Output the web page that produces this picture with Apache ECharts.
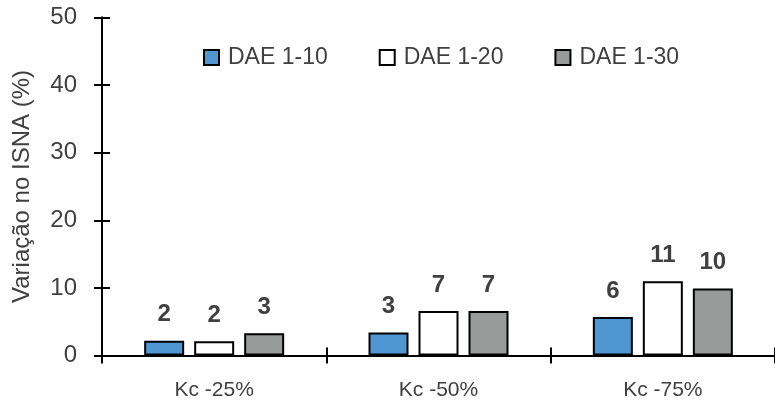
<!DOCTYPE html>
<html>
<head>
<meta charset="utf-8">
<script src="https://cdn.jsdelivr.net/npm/echarts@6/dist/echarts.min.js"></script>
<style>
  html, body { margin: 0; padding: 0; background: #fff; }
  #main { width: 775px; height: 401px; }
</style>
</head>
<body>
<div id="main"></div>
<script>
var categories = ["Kc -25%", "Kc -50%", "Kc -75%"];
var seriesNames = ["DAE 1-10", "DAE 1-20", "DAE 1-30"];
var dae10 = [2.2, 3.4, 5.7];
var dae20 = [2.1, 6.6, 11.0];
var dae30 = [3.3, 6.6, 9.9];
var yTicks = [0, 10, 20, 30, 40, 50];

var font = "'Liberation Sans', Arial, sans-serif";
var txt = "#404040";
var tickStyle = { color: "#000", width: 2 };

function makeBar(name, data, color) {
  return {
    name: name,
    type: "bar",
    data: data,
    barWidth: 40,
    barGap: "25%",
    itemStyle: { color: color, borderColor: "#000", borderWidth: 2 },
    label: {
      show: true,
      position: "top",
      distance: 14,
      fontFamily: font,
      fontSize: 24,
      fontWeight: "bold",
      color: txt,
      formatter: function (p) { return Math.round(p.value); },
    },
  };
}

var chart = echarts.init(document.getElementById("main"));
chart.setOption({
  animation: false,
  grid: { left: 102, top: 17.5, bottom: 45.5, width: 684 },
  legend: {
    data: seriesNames,
    left: 198,
    top: 41,
    itemWidth: 15,
    itemHeight: 15,
    itemGap: 51,
    icon: "rect",
    textStyle: { fontFamily: font, fontSize: 23, color: txt, padding: [0, 0, 0, 4] },
  },
  xAxis: [
    {
      type: "category",
      data: categories,
      position: "bottom",
      axisLine: { show: true, lineStyle: tickStyle },
      axisTick: { show: true, length: 8, interval: 0, lineStyle: tickStyle },
      axisLabel: { fontFamily: font, fontSize: 21, color: txt, margin: 24, interval: 0 },
    },
    {
      // same axis again, for the tick half inside the plot
      type: "category",
      data: categories,
      position: "bottom",
      axisLine: { show: true, lineStyle: tickStyle },
      axisTick: { show: true, inside: true, length: 8, interval: 0, lineStyle: tickStyle },
      axisLabel: { show: false },
    },
  ],
  yAxis: [
    {
      type: "value",
      position: "left",
      min: yTicks[0],
      max: yTicks[yTicks.length - 1],
      interval: 10,
      name: "Variação no ISNA (%)",
      nameLocation: "middle",
      nameGap: 68,
      nameTextStyle: { fontFamily: font, fontSize: 24, color: txt },
      axisLine: { show: true, lineStyle: tickStyle },
      axisTick: { show: true, length: 8, lineStyle: tickStyle },
      axisLabel: { fontFamily: font, fontSize: 24, color: txt, margin: 25 },
      splitLine: { show: false },
    },
    {
      type: "value",
      position: "left",
      min: yTicks[0],
      max: yTicks[yTicks.length - 1],
      interval: 10,
      axisLine: { show: true, lineStyle: tickStyle },
      axisTick: { show: true, inside: true, length: 8, lineStyle: tickStyle },
      axisLabel: { show: false },
      splitLine: { show: false },
    },
  ],
  series: [
    makeBar(seriesNames[0], dae10, "#5096d2"),
    makeBar(seriesNames[1], dae20, "#ffffff"),
    makeBar(seriesNames[2], dae30, "#999b9b"),
    // empty series so the second pair of axes is in use
    { type: "line", xAxisIndex: 1, yAxisIndex: 1, data: [], silent: true },
  ],
});
</script>
</body>
</html>
